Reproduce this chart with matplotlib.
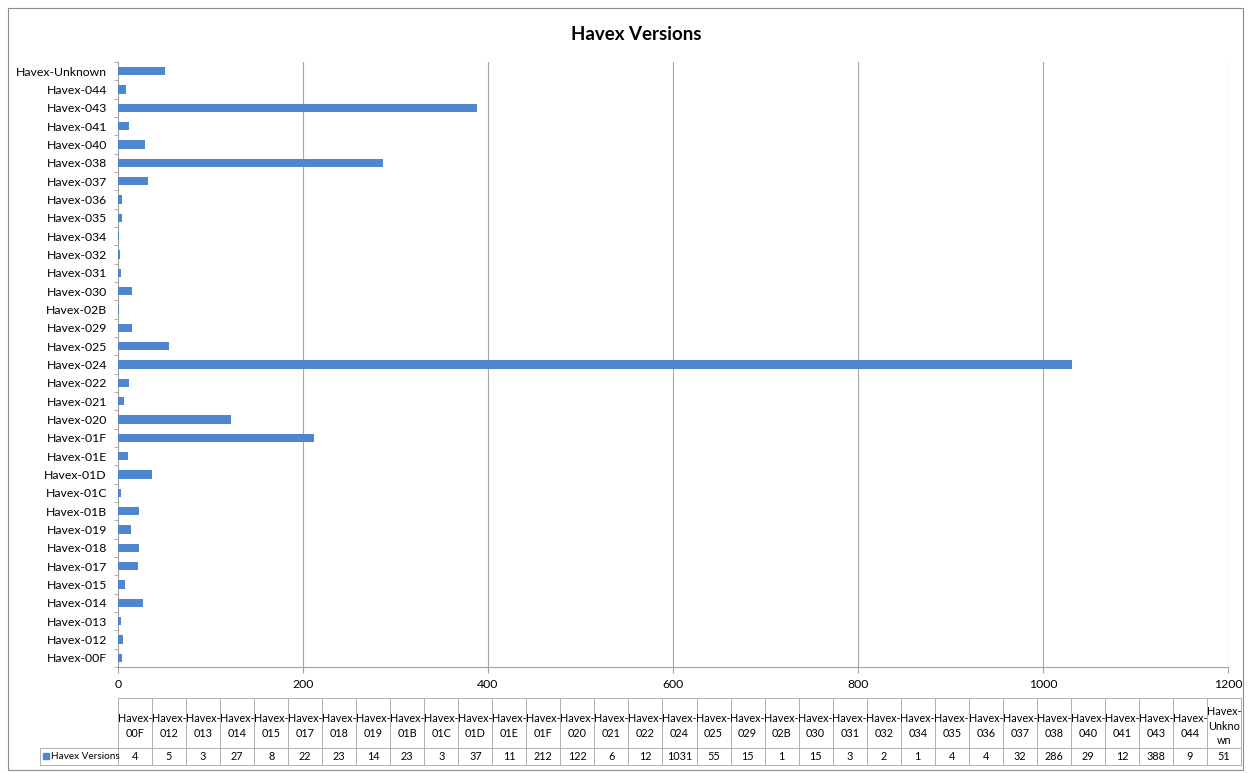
import matplotlib.pyplot as plt
from matplotlib.patches import Rectangle

# Havex version counts
versions = ["00F", "012", "013", "014", "015", "017", "018", "019", "01B", "01C",
            "01D", "01E", "01F", "020", "021", "022", "024", "025", "029", "02B",
            "030", "031", "032", "034", "035", "036", "037", "038", "040", "041",
            "043", "044", "Unknown"]
counts = [4, 5, 3, 27, 8, 22, 23, 14, 23, 3, 37, 11, 212, 122, 6, 12, 1031, 55,
          15, 1, 15, 3, 2, 1, 4, 4, 32, 286, 29, 12, 388, 9, 51]
series_name = "Havex Versions"

labels = ["Havex-" + v for v in versions]
bar_color = "#4f86d0"
W, H = 1251, 773

plt.rcParams['font.family'] = ['Lato', 'DejaVu Sans']
fig = plt.figure(figsize=(W / 100, H / 100), dpi=100)

def px(x, y):
    return x / W, 1 - y / H

# outer border
fig.patches.append(Rectangle(px(8, 770), 1235 / W, 762 / H, transform=fig.transFigure,
                             fill=False, edgecolor="#8c8c8c", lw=0.8))

fig.text(*px(636, 35), "Havex Versions", ha="center", va="center",
         fontsize=13.5, fontweight="bold")

x0, y0 = px(118, 667)
x1, y1 = px(1228, 62)
ax = fig.add_axes([x0, y0, x1 - x0, y1 - y0])
ypos = range(len(labels))
ax.barh(ypos, counts, height=0.44, color=bar_color, zorder=3)
ax.set_xlim(0, 1200)
ax.set_ylim(-0.5, len(labels) - 0.5)
ax.set_xticks(range(0, 1201, 200))
ax.set_yticks(list(ypos))
ax.set_yticklabels(labels, fontsize=8.8)
ax.tick_params(axis="y", length=0, pad=8)
ax.set_yticks([i - 0.5 for i in range(len(labels) + 1)], minor=True)
ax.tick_params(axis="y", which="minor", length=3, color="#a0a0a0", direction="out")
ax.tick_params(axis="x", length=4, color="#a0a0a0", direction="out",
               labelsize=8.8, pad=5)
ax.grid(axis="x", color="#a6a6a6", lw=0.8, zorder=0)
for s in ["top", "right"]:
    ax.spines[s].set_visible(False)
ax.spines["left"].set_color("#a0a0a0")
ax.spines["bottom"].set_color("#a0a0a0")

# data table below the axis
tab = fig.add_axes([0, 0, 1, 1], facecolor="none")
tab.set_xlim(0, W)
tab.set_ylim(H, 0)
tab.axis("off")
grid_c = "#b0b0b0"
left0, c0, c1 = 40, 118, 1241
top, mid, bot = 698, 748, 765
n = len(labels)
cw = (c1 - c0) / n
tab.plot([c0, c1], [top, top], color=grid_c, lw=0.7)
tab.plot([left0, c1], [mid, mid], color=grid_c, lw=0.7)
tab.plot([left0, c1], [bot, bot], color=grid_c, lw=0.7)
tab.plot([left0, left0], [mid, bot], color=grid_c, lw=0.7)
for i in range(n + 1):
    xx = c0 + i * cw
    tab.plot([xx, xx], [top, bot], color=grid_c, lw=0.7)
for i, (v, c) in enumerate(zip(versions, counts)):
    xc = c0 + (i + 0.5) * cw
    head = "Havex-\n" + v if v != "Unknown" else "Havex-\nUnkno\nwn"
    tab.text(xc, (top + mid) / 2 + 3, head, ha="center", va="center",
             fontsize=7.8, linespacing=1.35)
    tab.text(xc, (mid + bot) / 2, str(c), ha="center", va="center", fontsize=7.8)
tab.add_patch(Rectangle((43, 753), 6, 6, color=bar_color))
tab.text(51, (mid + bot) / 2, series_name, ha="left", va="center", fontsize=7.2)

fig.savefig("out.png", dpi=100)
